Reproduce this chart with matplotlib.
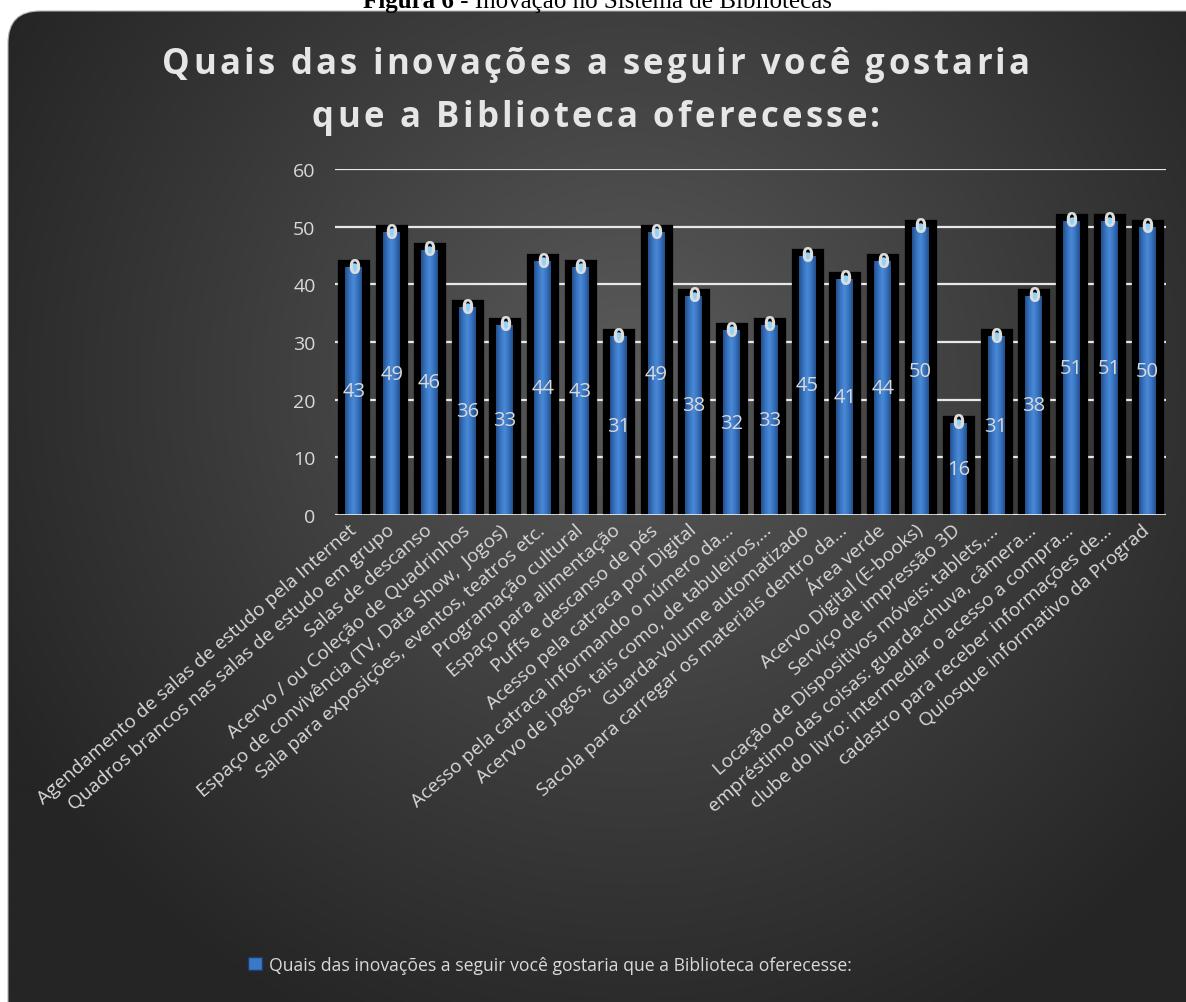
import numpy as np
import matplotlib
matplotlib.use("Agg")
import matplotlib.pyplot as plt
from matplotlib.patches import FancyBboxPatch, Patch
from matplotlib.colors import LinearSegmentedColormap
from matplotlib import font_manager
from matplotlib.ft2font import FT2Font, LoadFlags

categories = [
    "Agendamento de salas de estudo pela Internet",
    "Quadros brancos nas salas de estudo em grupo",
    "Salas de descanso",
    "Acervo / ou Coleção de Quadrinhos",
    "Espaço de convivência (TV, Data Show,  Jogos)",
    "Sala para exposições, eventos, teatros etc.",
    "Programação cultural",
    "Espaço para alimentação",
    "Puffs e descanso de pés",
    "Acesso pela catraca por Digital",
    "Acesso pela catraca informando o número da…",
    "Acervo de jogos, tais como, de tabuleiros,…",
    "Guarda-volume automatizado",
    "Sacola para carregar os materiais dentro da…",
    "Área verde",
    "Acervo Digital (E-books)",
    "Serviço de impressão 3D",
    "Locação de Dispositivos móveis: tablets,…",
    "empréstimo das coisas: guarda-chuva, câmera…",
    "clube do livro: intermediar o acesso a compra…",
    "cadastro para receber informações de…",
    "Quiosque informativo da Prograd",
]
values = [43, 49, 46, 36, 33, 44, 43, 31, 49, 38, 32, 33, 45, 41, 44, 50, 16, 31, 38, 51, 51, 50]
top_labels = [0, 0, 0, 0, 0, 0, 0, 0, 0, 0, 0, 0, 0, 0, 0, 0, 0, 0, 0, 0, 0, 0]
yticks = [0, 10, 20, 30, 40, 50, 60]

title_lines = ["Quais das inovações a seguir você gostaria", "que a Biblioteca oferecesse:"]
legend_label = "Quais das inovações a seguir você gostaria que a Biblioteca oferecesse:"
caption_bold = "Figura 6"
caption_rest = " - Inovação no Sistema de Bibliotecas"

W, H = 1186, 1003
DPI = 100
fig = plt.figure(figsize=(W / DPI, H / DPI), dpi=DPI)
fig.patch.set_facecolor("white")

FONT = "Open Sans"
TXT = "#d9d9d9"


def advances(text, family, weight, size):
    path = font_manager.findfont(font_manager.FontProperties(family=family, weight=weight))
    f = FT2Font(path)
    f.set_size(size, DPI)
    out = []
    for ch in text:
        g = f.load_char(ord(ch), flags=LoadFlags.NO_HINTING)
        out.append(g.linearHoriAdvance / 65536.0)
    return out


def spaced_text(line, xc, ybase, size, spacing, **kw):
    adv = advances(line, FONT, "bold", size)
    total = sum(adv) + spacing * (len(line) - 1)
    xpos = xc - total / 2
    for ch, a in zip(line, adv):
        if ch != " ":
            fig.text(xpos / W, 1 - ybase / H, ch, ha="left", va="baseline",
                     fontsize=size, fontweight="bold", family=FONT, **kw)
        xpos += a + spacing


# background rounded box with radial gradient
bg = fig.add_axes([0, 0, 1, 1], zorder=-10)
bg.set_xlim(0, W)
bg.set_ylim(H, 0)
bg.axis("off")
yy, xx = np.mgrid[0:H:2, 0:W:2]
r = np.sqrt((xx - 630) ** 2 + (yy - 380) ** 2) / 720.0
r = np.clip(r, 0, 1) ** 0.9
c_in = np.array([0x5c, 0x5c, 0x5c]) / 255.0
c_out = np.array([0x25, 0x25, 0x25]) / 255.0
img = c_in[None, None, :] * (1 - r[..., None]) + c_out[None, None, :] * r[..., None]
box = FancyBboxPatch((8, 12), 1230, 1040, boxstyle="round,pad=0,rounding_size=32",
                     facecolor="none", edgecolor="#b0b0b0", linewidth=0.8,
                     transform=bg.transData, zorder=2)
bg.add_patch(box)
im = bg.imshow(img, extent=[0, W, H, 0], aspect="auto", zorder=1, interpolation="bilinear")
im.set_clip_path(box)

# caption (only its lower part is visible at the very top of the page)
CAP_SIZE = 18
wb = sum(advances(caption_bold, "Liberation Serif", "bold", CAP_SIZE))
wr = sum(advances(caption_rest, "Liberation Serif", "normal", CAP_SIZE))
xsplit = 597 - (wb + wr) / 2 + wb
fig.text(xsplit / W, 1 - 8 / H, caption_bold, ha="right", va="baseline", fontsize=CAP_SIZE,
         fontweight="bold", family="Liberation Serif", color="black")
fig.text(xsplit / W, 1 - 8 / H, caption_rest, ha="left",
         va="baseline", fontsize=CAP_SIZE, family="Liberation Serif", color="black")

# title with letter spacing
spaced_text(title_lines[0], 596, 74, 25, 3.2, color="#e6e6e6")
spaced_text(title_lines[1], 596, 127, 25, 3.2, color="#e6e6e6")

# main axes
ax = fig.add_axes([335 / W, 1 - 516 / H, 831 / W, 346 / H])
ax.set_facecolor("none")
x = np.arange(len(values))
for s in ax.spines.values():
    s.set_visible(False)
ax.set_yticks(yticks)
ax.yaxis.grid(True, color="#e8e8e8", linewidth=1.6, zorder=0)
ax.set_axisbelow(True)
ax.axhline(0, color="#e8e8e8", linewidth=2.0, zorder=6)

bw = 0.45
ax.bar(x, values, width=bw, color="black", edgecolor="black", linewidth=11,
       joinstyle="miter", zorder=2)
blue = ax.bar(x, values, width=bw, color="#3a76c4", edgecolor="none", zorder=3)

cmap = LinearSegmentedColormap.from_list(
    "bar", ["#24508a", "#3672c0", "#4a8ad6", "#3672c0", "#24508a"])
grad = np.linspace(0, 1, 64)[None, :]
for rect in blue.patches:
    x0 = rect.get_x()
    x1 = x0 + rect.get_width()
    h = rect.get_height()
    gi = ax.imshow(grad, extent=[x0, x1, 0, h], aspect="auto", cmap=cmap,
                   zorder=3.5, interpolation="bilinear")
    gi.set_clip_path(rect)
ax.set_xlim(-0.5, len(values) - 0.5)
ax.set_ylim(0, 60)

for xi, v, t in zip(x, values, top_labels):
    ax.plot([xi], [v], marker="o", markersize=6, color="#8fd3fa", zorder=4,
            markeredgewidth=0)
    ax.text(xi, v, str(t), ha="center", va="center", fontsize=15, fontweight="bold",
            family=FONT, color="#dcdcdc", zorder=5)
    ax.text(xi, v / 2, str(v), ha="center", va="center", fontsize=14.5,
            family=FONT, color=TXT, zorder=5)

ax.set_xticks(x)
ax.set_xticklabels(categories, rotation=41, ha="right", va="center",
                   rotation_mode="anchor", fontsize=13.8, family=FONT, color=TXT)
ax.tick_params(axis="x", length=0, pad=9)
ax.tick_params(axis="y", length=0, pad=14, labelsize=14, labelcolor=TXT)
for lab in ax.get_yticklabels():
    lab.set_family(FONT)

handle = Patch(facecolor="#3a78c8", edgecolor="#1d3d6a", linewidth=1)
leg = fig.legend([handle], [legend_label], loc="center",
                 bbox_to_anchor=(550 / W, 1 - 966 / H), frameon=False,
                 prop={"family": FONT, "size": 12.7}, handlelength=0.75,
                 handleheight=0.75, handletextpad=0.4)
for t in leg.get_texts():
    t.set_color(TXT)

fig.savefig("out.png", dpi=DPI, facecolor="white")
